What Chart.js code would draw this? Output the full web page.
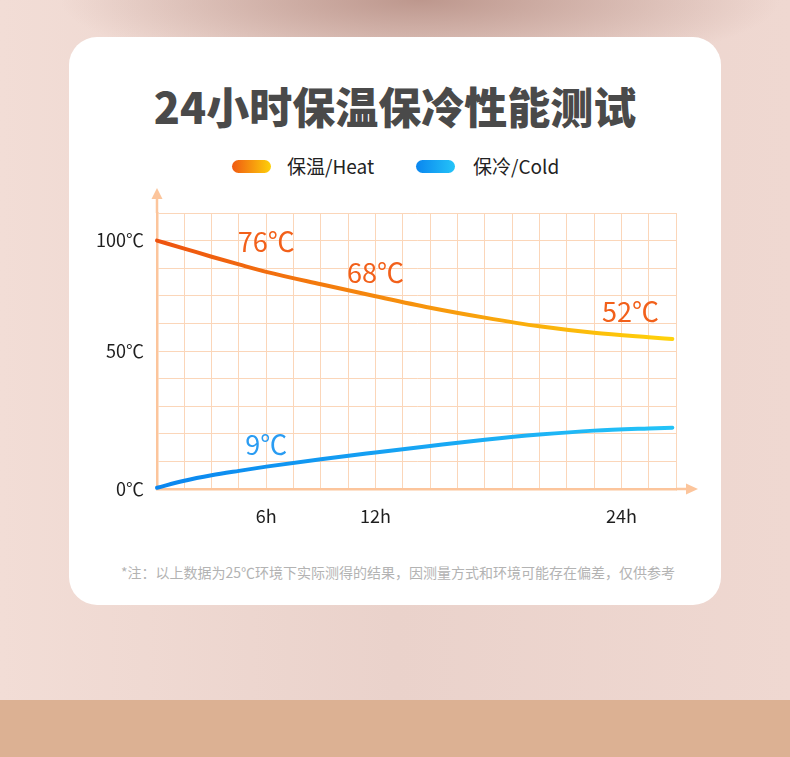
<!DOCTYPE html>
<html>
<head>
<meta charset="utf-8">
<script src="https://cdn.jsdelivr.net/npm/chart.js@4.4.1/dist/chart.umd.min.js"></script>
<style>
  html, body { margin: 0; padding: 0; }
  body {
    width: 790px; height: 757px; position: relative; overflow: hidden;
    font-family: "Noto Sans CJK SC", "Noto Sans", sans-serif;
    background:
      linear-gradient(180deg, rgba(220,177,147,0) 700px, #dcb193 700px),
      radial-gradient(ellipse 360px 75px at 420px 0px, #bd978d 0%, rgba(189,151,141,0) 100%),
      linear-gradient(90deg, #f2ddd6 0%, #ead2cb 50%, #efd8d1 100%);
  }
  .card {
    position: absolute; left: 69px; top: 37px; width: 652px; height: 568px;
    background: #fff; border-radius: 28px;
  }
  .title {
    position: absolute; left: 0; top: 79px; width: 790px; text-align: center;
    font-size: 43px; font-weight: 900; letter-spacing: 0; color: #4a4a4a; line-height: 52px;
  }
  .legend span.pill {
    position: absolute; width: 39px; height: 13px; border-radius: 7px;
  }
  .legend span.txt {
    position: absolute; font-size: 19px; color: #222; line-height: 24px;
  }
  .note {
    position: absolute; left: 0; top: 562px; width: 796px; text-align: center;
    font-size: 14px; color: #b3b3b3; line-height: 20px;
  }
  canvas { position: absolute; left: 0; top: 0; }
</style>
</head>
<body>
<div class="card"></div>
<div class="title">24小时保温保冷性能测试</div>
<div class="legend">
  <span class="pill" style="left:232px;top:160px;background:linear-gradient(90deg,#f05a12,#fdd00a)"></span>
  <span class="txt" style="left:287px;top:154px">保温/Heat</span>
  <span class="pill" style="left:416px;top:160px;background:linear-gradient(90deg,#0a86ef,#24c4f8)"></span>
  <span class="txt" style="left:473px;top:154px">保冷/Cold</span>
</div>
<div class="note">*注：以上数据为25℃环境下实际测得的结果，因测量方式和环境可能存在偏差，仅供参考</div>
<div style="position:absolute;left:0;top:0;width:790px;height:757px">
  <canvas id="tempChart"></canvas>
</div>
<script>
// hours; one grid column = 1.5h
const hours = [0, 1.5, 3, 4.5, 6, 9, 12, 15, 18, 21, 24, 27, 28.3];
const heatTemps = [100, 96.8, 93.5, 90.4, 87.4, 82.4, 77.6, 73.0, 69.0, 65.5, 62.9, 61.1, 60.4];
const coldTemps = [0.5, 3.3, 5.5, 7.3, 9.0, 12.0, 14.7, 17.3, 19.8, 21.9, 23.5, 24.4, 24.7];

const xTickLabels = ['', '', '', '', '6h', '', '', '', '12h', '', '', '', '', '', '', '', '', '24h', '', ''];
const yTickLabels = ['0℃', '', '', '', '', '50℃', '', '', '', '100℃', ''];

const callouts = [
  { x: 6, y: 99.5, text: '76℃', color: '#f2601a' },
  { x: 12, y: 87.2, text: '68℃', color: '#f2601a' },
  { x: 26, y: 71.3, text: '52℃', color: '#f2601a' },
  { x: 6, y: 17.7, text: '9℃', color: '#2a9cf2' }
];

const X_STEP = 1.5, X_COLS = 19;
const Y_STEP = 100 / 9, Y_ROWS = 10;
const gridColor = '#fbd6b9';
const axisColor = '#fcc59c';

function lineGradient(from, to) {
  return function (context) {
    const chart = context.chart;
    const area = chart.chartArea;
    if (!area) return from;
    const g = chart.ctx.createLinearGradient(area.left, 0, area.right, 0);
    g.addColorStop(0, from);
    g.addColorStop(1, to);
    return g;
  };
}

// axis arrows + callout texts
const extras = {
  id: 'extras',
  afterDatasetsDraw(chart) {
    const ctx = chart.ctx;
    const area = chart.chartArea;
    const xs = chart.scales.x, ys = chart.scales.y;
    ctx.save();
    ctx.strokeStyle = axisColor;
    ctx.fillStyle = axisColor;
    ctx.lineWidth = 2.5;
    ctx.beginPath();
    ctx.moveTo(area.left, area.top);
    ctx.lineTo(area.left, area.top - 16);
    ctx.moveTo(area.right, area.bottom);
    ctx.lineTo(area.right + 11, area.bottom);
    ctx.stroke();
    ctx.beginPath();
    ctx.moveTo(area.left, area.top - 25);
    ctx.lineTo(area.left - 5.5, area.top - 14);
    ctx.lineTo(area.left + 5.5, area.top - 14);
    ctx.closePath();
    ctx.fill();
    ctx.beginPath();
    ctx.moveTo(area.right + 22, area.bottom);
    ctx.lineTo(area.right + 10, area.bottom - 5.5);
    ctx.lineTo(area.right + 10, area.bottom + 5.5);
    ctx.closePath();
    ctx.fill();

    ctx.font = '27px "Noto Sans CJK SC", "Noto Sans", sans-serif';
    ctx.textAlign = 'center';
    ctx.textBaseline = 'middle';
    callouts.forEach(c => {
      ctx.fillStyle = c.color;
      ctx.fillText(c.text, xs.getPixelForValue(c.x), ys.getPixelForValue(c.y));
    });
    ctx.restore();
  }
};

const ctx = document.getElementById('tempChart').getContext('2d');
new Chart(ctx, {
  type: 'line',
  data: {
    datasets: [{
      label: '保温/Heat',
      data: hours.map((h, i) => ({ x: h, y: heatTemps[i] })),
      borderColor: lineGradient('#ee520f', '#ffd30a'),
      borderWidth: 4,
      pointRadius: 0,
      cubicInterpolationMode: 'monotone',
      borderCapStyle: 'round',
      clip: false
    }, {
      label: '保冷/Cold',
      data: hours.map((h, i) => ({ x: h, y: coldTemps[i] })),
      borderColor: lineGradient('#0a86ef', '#24c4f8'),
      borderWidth: 4,
      pointRadius: 0,
      cubicInterpolationMode: 'monotone',
      borderCapStyle: 'round',
      clip: false
    }]
  },
  options: {
    responsive: true,
    maintainAspectRatio: false,
    animation: false,
    layout: { padding: { left: 0, right: 114, top: 213, bottom: 208 } },
    plugins: {
      legend: { display: false },
      tooltip: { enabled: false }
    },
    scales: {
      x: {
        type: 'linear',
        min: 0,
        max: X_COLS * X_STEP,
        afterBuildTicks: scale => {
          scale.ticks = xTickLabels.map((_, i) => ({ value: i * X_STEP }));
        },
        afterFit: scale => { scale.height = 60; },
        grid: { color: gridColor, lineWidth: 1, drawTicks: false },
        border: { display: true, color: axisColor, width: 2.5 },
        ticks: {
          autoSkip: false,
          maxRotation: 0,
          padding: 16,
          color: '#1e1e1e',
          font: { size: 18, family: '"Noto Sans CJK SC", "Noto Sans", sans-serif' },
          callback: (v, i) => xTickLabels[i]
        }
      },
      y: {
        type: 'linear',
        min: 0,
        max: Y_ROWS * Y_STEP,
        afterBuildTicks: scale => {
          scale.ticks = yTickLabels.map((_, i) => ({ value: i * Y_STEP }));
        },
        afterFit: scale => { scale.width = 157; },
        grid: { color: gridColor, lineWidth: 1, drawTicks: false },
        border: { display: true, color: axisColor, width: 2.5 },
        ticks: {
          autoSkip: false,
          padding: 13,
          color: '#1e1e1e',
          font: { size: 18, family: '"Noto Sans CJK SC", "Noto Sans", sans-serif' },
          callback: (v, i) => yTickLabels[i]
        }
      }
    }
  },
  plugins: [extras]
});
</script>
</body>
</html>
